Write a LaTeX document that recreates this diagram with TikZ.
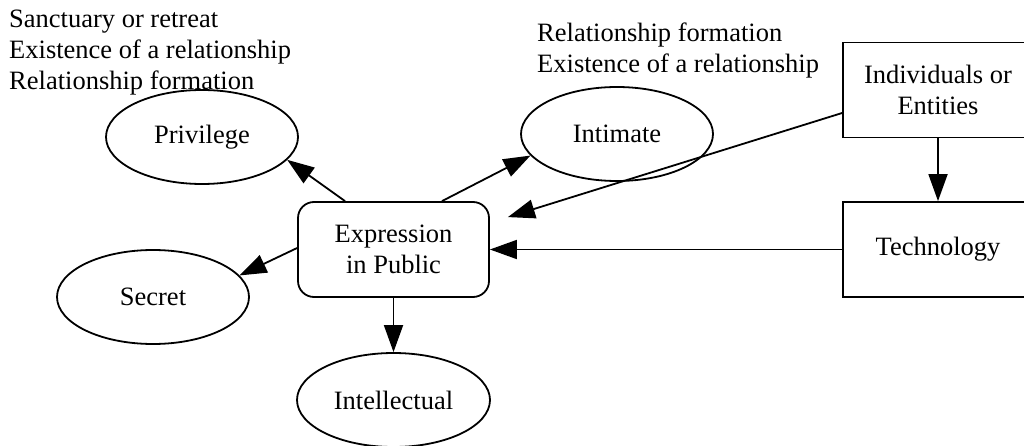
\documentclass[tikz,border=0pt]{standalone}
\usepackage{fontspec}
\setmainfont{Liberation Serif}
\usetikzlibrary{shapes.geometric,arrows.meta}
\begin{document}
\begin{tikzpicture}[x=1pt,y=-1pt,
  every node/.style={font=\fontsize{26.5}{31}\selectfont},
  oval/.style={draw, ellipse, line width=1.8pt, minimum width=192pt, minimum height=94pt, inner sep=0pt},
  box/.style={draw, rectangle, line width=1.8pt, minimum width=190pt, minimum height=95pt, align=center, inner sep=0pt},
  rbox/.style={box, rounded corners=16pt},
  link/.style={line width=1.8pt, -{Triangle[length=27pt,width=19pt]}},
  note/.style={align=left, inner sep=0pt, anchor=north west}]
\useasboundingbox (0,0) rectangle (1024,446);
\clip (0,0) rectangle (1024,446);

% nodes
\node[oval] (priv) at (202,137) {Privilege};
\node[oval] (intim) at (617,134) {Intimate};
\node[oval] (secret) at (153,297) {Secret};
\node[oval, minimum width=193pt] (intel) at (393.5,400) {Intellectual};
\node[rbox, minimum width=191pt] (expr) at (393.5,249.5) {Expression\\in Public};
\node[box] (indiv) at (938,90) {Individuals or\\Entities};
\node[box] (tech) at (938,249.5) {Technology};

% notes
\node[note] (privnote) at (9,9.5) {Sanctuary or retreat\\Existence of a relationship\\Relationship formation};
\node[note] (intimnote) at (537,23) {Relationship formation\\Existence of a relationship};

% connectors
\draw[link] ([xshift=-48.5pt]expr.north) -- (priv.-15);
\draw[link] ([xshift=48.5pt]expr.north) -- (intim.194);
\draw[link] ([yshift=1.5pt]expr.west) -- (secret.14);
\draw[link] (expr.south) -- (intel.north);
\draw[link] (tech.west) -- (expr.east);
\draw[link] (indiv.south) -- (tech.north);
\draw[link] ([yshift=-23pt]indiv.west) -- ([xshift=18pt,yshift=-16pt]expr.north east);
\end{tikzpicture}
\end{document}
